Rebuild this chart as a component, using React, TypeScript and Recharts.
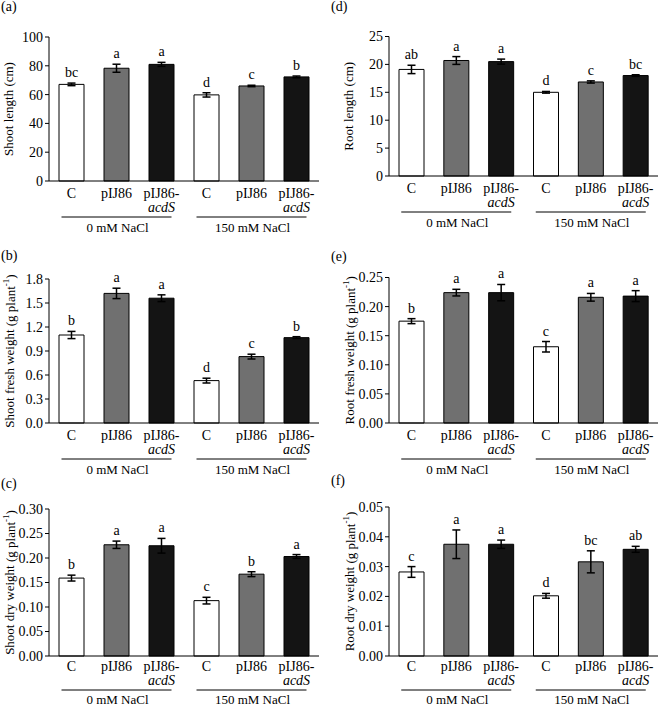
import React from 'react';
import {
  ComposedChart,
  Bar,
  Line,
  XAxis,
  YAxis,
  ErrorBar,
  LabelList,
  Cell,
} from 'recharts';

const FONT = '"Liberation Serif", "Times New Roman", serif';

const categories = ['C', 'pIJ86', 'pIJ86-acdS', 'C', 'pIJ86', 'pIJ86-acdS'];
const groupLabels = ['0 mM NaCl', '150 mM NaCl'];
const barFills = ['#ffffff', '#707070', '#141414', '#ffffff', '#707070', '#141414'];

// (a) shoot length
const shootLength = [67.1, 78.3, 81.0, 59.8, 66.0, 72.3];
const shootLengthErr = [0.9, 2.8, 1.4, 1.5, 0.5, 0.6];
const shootLengthSig = ['bc', 'a', 'a', 'd', 'c', 'b'];
const shootLengthTicks = [0, 20, 40, 60, 80, 100];

// (b) shoot fresh weight
const shootFresh = [1.1, 1.62, 1.56, 0.53, 0.83, 1.067];
const shootFreshErr = [0.045, 0.065, 0.042, 0.03, 0.03, 0.012];
const shootFreshSig = ['b', 'a', 'a', 'd', 'c', 'b'];
const shootFreshTicks = [0, 0.3, 0.6, 0.9, 1.2, 1.5, 1.8];

// (c) shoot dry weight
const shootDry = [0.159, 0.227, 0.225, 0.113, 0.167, 0.203];
const shootDryErr = [0.006, 0.0075, 0.015, 0.0068, 0.005, 0.004];
const shootDrySig = ['b', 'a', 'a', 'c', 'b', 'a'];
const shootDryTicks = [0, 0.05, 0.1, 0.15, 0.2, 0.25, 0.3];

// (d) root length
const rootLength = [19.1, 20.7, 20.5, 15.0, 16.85, 18.0];
const rootLengthErr = [0.75, 0.7, 0.45, 0.15, 0.2, 0.15];
const rootLengthSig = ['ab', 'a', 'a', 'd', 'c', 'bc'];
const rootLengthTicks = [0, 5, 10, 15, 20, 25];

// (e) root fresh weight
const rootFresh = [0.175, 0.224, 0.224, 0.131, 0.216, 0.218];
const rootFreshErr = [0.0043, 0.0057, 0.014, 0.009, 0.0066, 0.0094];
const rootFreshSig = ['b', 'a', 'a', 'c', 'a', 'a'];
const rootFreshTicks = [0, 0.05, 0.1, 0.15, 0.2, 0.25];

// (f) root dry weight
const rootDry = [0.0282, 0.0375, 0.0375, 0.0202, 0.0316, 0.0358];
const rootDryErr = [0.0018, 0.0048, 0.0014, 0.0008, 0.0037, 0.001];
const rootDrySig = ['c', 'a', 'a', 'd', 'bc', 'ab'];
const rootDryTicks = [0, 0.01, 0.02, 0.03, 0.04, 0.05];

const buildRows = (values: number[], errors: number[], sig: string[]) =>
  values.map((v, i) => ({
    key: `k${i}`,
    value: v,
    err: errors[i],
    top: v + errors[i],
    sig: sig[i],
  }));

// category names, the group rule and the NaCl label drawn under the axis
const makeCategoryTick = (shift: number) => (props: any) => {
  const { x, y, index } = props;
  const name = categories[index];
  const parts = name.split('-');
  const first = parts.length > 1 ? parts[0] + '-' : name;
  const second = parts.length > 1 ? parts[1] : null;
  const catStyle = { fontFamily: FONT, fontSize: 14, fill: '#000' };
  const groupStyle = { fontFamily: FONT, fontSize: 13, fill: '#000' };
  return (
    <g>
      <text x={x} y={y + 17 + shift} textAnchor="middle" style={catStyle}>
        {first}
      </text>
      {second && (
        <text x={x} y={y + 31 + shift} textAnchor="middle" style={{ ...catStyle, fontStyle: 'italic' }}>
          {second}
        </text>
      )}
      {index % 3 === 1 && (
        <>
          <line x1={x - 55} x2={x + 55} y1={y + 36 + shift} y2={y + 36 + shift} stroke="#000" strokeWidth={1} />
          <text x={x + 1} y={y + 51 + shift * 1.5} textAnchor="middle" style={groupStyle}>
            {groupLabels[Math.floor(index / 3)]}
          </text>
        </>
      )}
    </g>
  );
};

interface PanelProps {
  tag: string;
  left: number;
  top: number;
  height: number;
  plotTop: number;
  plotBottom: number;
  axisWidth: number;
  rightMargin: number;
  yLabel: string;
  perPlant?: boolean;
  tickShift?: number;
  values: number[];
  errors: number[];
  sig: string[];
  ticks: number[];
  decimals: number;
}

const Panel: React.FC<PanelProps> = ({
  tag,
  left,
  top,
  height,
  plotTop,
  plotBottom,
  axisWidth,
  rightMargin,
  yLabel,
  perPlant,
  tickShift = 0,
  values,
  errors,
  sig,
  ticks,
  decimals,
}) => {
  const rows = buildRows(values, errors, sig);
  const plotH = plotBottom - plotTop;
  const labelY = plotTop - top + plotH / 2;
  const labelX = axisWidth - (perPlant ? 39.5 : 41);
  const CategoryTick = makeCategoryTick(tickShift);

  const renderYLabel = () => (
    <text
      x={labelX}
      y={labelY}
      transform={`rotate(-90, ${labelX}, ${labelY})`}
      textAnchor="middle"
      dominantBaseline="central"
      style={{ fontFamily: FONT, fontSize: 13, fill: '#000' }}
    >
      {yLabel}
      {perPlant && (
        <>
          <tspan> (g plant</tspan>
          <tspan fontSize={9} dy={-4}>-1</tspan>
          <tspan dy={4}>)</tspan>
        </>
      )}
    </text>
  );

  return (
    <div style={{ position: 'absolute', left, top, width: 330, height }}>
      <div
        style={{
          position: 'absolute',
          left: 1,
          top: 0,
          fontFamily: FONT,
          fontSize: 14,
          lineHeight: '14px',
          color: '#000',
        }}
      >
        {tag}
      </div>
      <ComposedChart
        width={330}
        height={height}
        data={rows}
        margin={{ top: plotTop - top, right: rightMargin, left: 0, bottom: 0 }}
        style={{ overflow: 'visible' }}
      >
        <XAxis
          dataKey="key"
          type="category"
          interval={0}
          tick={<CategoryTick />}
          tickLine={false}
          tickSize={0}
          tickMargin={0}
          height={height - (plotBottom - top)}
          stroke="#000"
        />
        <YAxis
          type="number"
          domain={[0, ticks[ticks.length - 1]]}
          ticks={ticks}
          interval={0}
          tickFormatter={(v: number) => v.toFixed(decimals)}
          tickSize={4}
          tickMargin={2}
          width={axisWidth}
          stroke="#000"
          tick={{ fontFamily: FONT, fontSize: 14, fill: '#000' }}
          label={{ content: renderYLabel }}
        />
        <Bar dataKey="value" barSize={25} stroke="#000" strokeWidth={1} isAnimationActive={false}>
          {rows.map((r, i) => (
            <Cell key={r.key} fill={barFills[i]} />
          ))}
          <ErrorBar dataKey="err" width={4} stroke="#000" strokeWidth={1.5} direction="y" />
        </Bar>
        <Line
          dataKey="top"
          stroke="none"
          dot={false}
          activeDot={false}
          legendType="none"
          isAnimationActive={false}
        >
          <LabelList
            dataKey="sig"
            position="top"
            offset={6}
            style={{ fontFamily: FONT, fontSize: 14, fill: '#000' }}
          />
        </Line>
      </ComposedChart>
    </div>
  );
};

export default function App() {
  return (
    <div style={{ position: 'absolute', left: 0, top: 0, width: 660, height: 706, background: '#fff', overflow: 'hidden' }}>
      <Panel
        tag="(a)"
        left={0}
        top={0}
        height={240}
        plotTop={37}
        plotBottom={181}
        axisWidth={49}
        rightMargin={11}
        yLabel="Shoot length (cm)"
        values={shootLength}
        errors={shootLengthErr}
        sig={shootLengthSig}
        ticks={shootLengthTicks}
        decimals={0}
      />
      <Panel
        tag="(d)"
        left={330}
        top={0}
        height={236}
        plotTop={36.5}
        plotBottom={176}
        axisWidth={59}
        rightMargin={2}
        yLabel="Root length (cm)"
        values={rootLength}
        errors={rootLengthErr}
        sig={rootLengthSig}
        ticks={rootLengthTicks}
        decimals={0}
      />
      <Panel
        tag="(b)"
        left={0}
        top={249}
        height={231}
        plotTop={279}
        plotBottom={423}
        axisWidth={49}
        rightMargin={11}
        yLabel="Shoot fresh weight"
        perPlant
        values={shootFresh}
        errors={shootFreshErr}
        sig={shootFreshSig}
        ticks={shootFreshTicks}
        decimals={1}
      />
      <Panel
        tag="(e)"
        left={330}
        top={250}
        height={230}
        plotTop={277.5}
        plotBottom={423}
        axisWidth={59}
        rightMargin={2}
        yLabel="Root fresh weight"
        perPlant
        values={rootFresh}
        errors={rootFreshErr}
        sig={rootFreshSig}
        ticks={rootFreshTicks}
        decimals={2}
      />
      <Panel
        tag="(c)"
        left={0}
        top={477}
        height={229}
        plotTop={509}
        plotBottom={656}
        axisWidth={49}
        rightMargin={11}
        yLabel="Shoot dry weight"
        perPlant
        tickShift={-2}
        values={shootDry}
        errors={shootDryErr}
        sig={shootDrySig}
        ticks={shootDryTicks}
        decimals={2}
      />
      <Panel
        tag="(f)"
        left={330}
        top={474}
        height={232}
        plotTop={507}
        plotBottom={656}
        axisWidth={59}
        rightMargin={2}
        yLabel="Root dry weight"
        perPlant
        tickShift={-2}
        values={rootDry}
        errors={rootDryErr}
        sig={rootDrySig}
        ticks={rootDryTicks}
        decimals={2}
      />
    </div>
  );
}
